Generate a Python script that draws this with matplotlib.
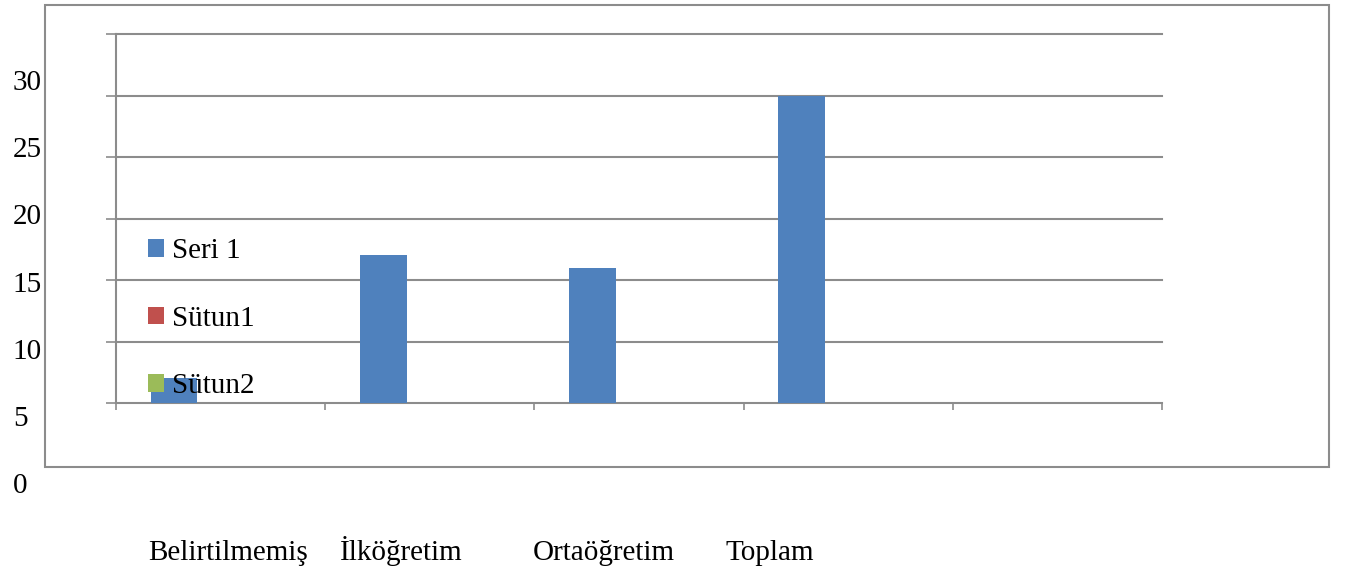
import numpy as np
import matplotlib
matplotlib.use("Agg")
import matplotlib.pyplot as plt
from matplotlib.patches import Patch, Rectangle

plt.rcParams['font.family'] = ['Liberation Serif', 'DejaVu Serif']

# data
categories = ["Belirtilmemiş", "İlköğretim", "Ortaöğretim", "Toplam"]
n_slots = 5
seri1 = [2, 12, 11, 25]
sutun1 = []
sutun2 = []
series_names = ["Seri 1", "Sütun1", "Sütun2"]
series_colors = ["#4F81BD", "#C0504D", "#9BBB59"]
y_ticks = [0, 5, 10, 15, 20, 25, 30]

W, H = 1346, 571
fig = plt.figure(figsize=(W / 100, H / 100), dpi=100)

grid_color = "#8C8C8C"

# outer chart border
fig.patches.append(Rectangle((45 / W, 1 - 467 / H), (1329 - 45) / W, (467 - 5) / H,
                             transform=fig.transFigure, fill=False,
                             edgecolor=grid_color, linewidth=1.5))

# main plot area
ax = fig.add_axes([116 / W, 1 - 403 / H, (1162 - 116) / W, (403 - 34) / H])
ax.set_xlim(-0.5, n_slots - 0.5)
ax.set_ylim(0, 30)

bw = 1 / (3 + 1.5)
x = np.arange(len(seri1))
all_series = [seri1, sutun1, sutun2]
for i, vals in enumerate(all_series):
    if len(vals) == 0:
        continue
    ax.bar(x + (i - 1) * bw, vals, width=bw, color=series_colors[i], zorder=3)

for v in y_ticks[1:]:
    ax.axhline(v, color=grid_color, linewidth=1.5, zorder=1, clip_on=False)

ax.set_yticks(y_ticks)
ax.set_yticklabels([])
ax.set_xticks(np.arange(n_slots + 1) - 0.5)
ax.set_xticklabels([])
ax.tick_params(axis='y', length=7, width=1.2, color=grid_color, direction='out')
ax.tick_params(axis='x', length=5, width=1.2, color=grid_color, direction='out')
for s in ['top', 'right']:
    ax.spines[s].set_visible(False)
for s in ['left', 'bottom']:
    ax.spines[s].set_color(grid_color)
    ax.spines[s].set_linewidth(1.5)

handles = [Patch(facecolor=c, edgecolor='none') for c in series_colors]
ax.legend(handles, series_names, loc='center left',
          bbox_to_anchor=(0.019, 0.228), frameon=False, fontsize=21,
          handlelength=0.55, handleheight=0.55, handletextpad=0.3,
          labelspacing=1.42, borderaxespad=0)

# value labels on the left
ax_y = fig.add_axes([0, 88 / H, 10 / W, (491 - 88) / H])
ax_y.set_ylim(0, 30)
ax_y.yaxis.tick_right()
ax_y.set_yticks(y_ticks)
ax_y.set_yticklabels([str(v) for v in y_ticks], fontsize=21)
ax_y.tick_params(axis='y', length=0, pad=2)
ax_y.set_xticks([])
for s in ax_y.spines.values():
    s.set_visible(False)
ax_y.patch.set_visible(False)

# category labels along the bottom
ax_x = fig.add_axes([148 / W, 11 / H, (725 - 148) / W, 0.001])
ax_x.set_xlim(0, len(categories) - 1)
ax_x.set_xticks(np.arange(len(categories)))
ax_x.set_xticklabels(categories, fontsize=21, ha='left', va='baseline')
ax_x.tick_params(axis='x', length=0, pad=0)
ax_x.set_yticks([])
for s in ax_x.spines.values():
    s.set_visible(False)
ax_x.patch.set_visible(False)

fig.savefig("out.png", dpi=100)
